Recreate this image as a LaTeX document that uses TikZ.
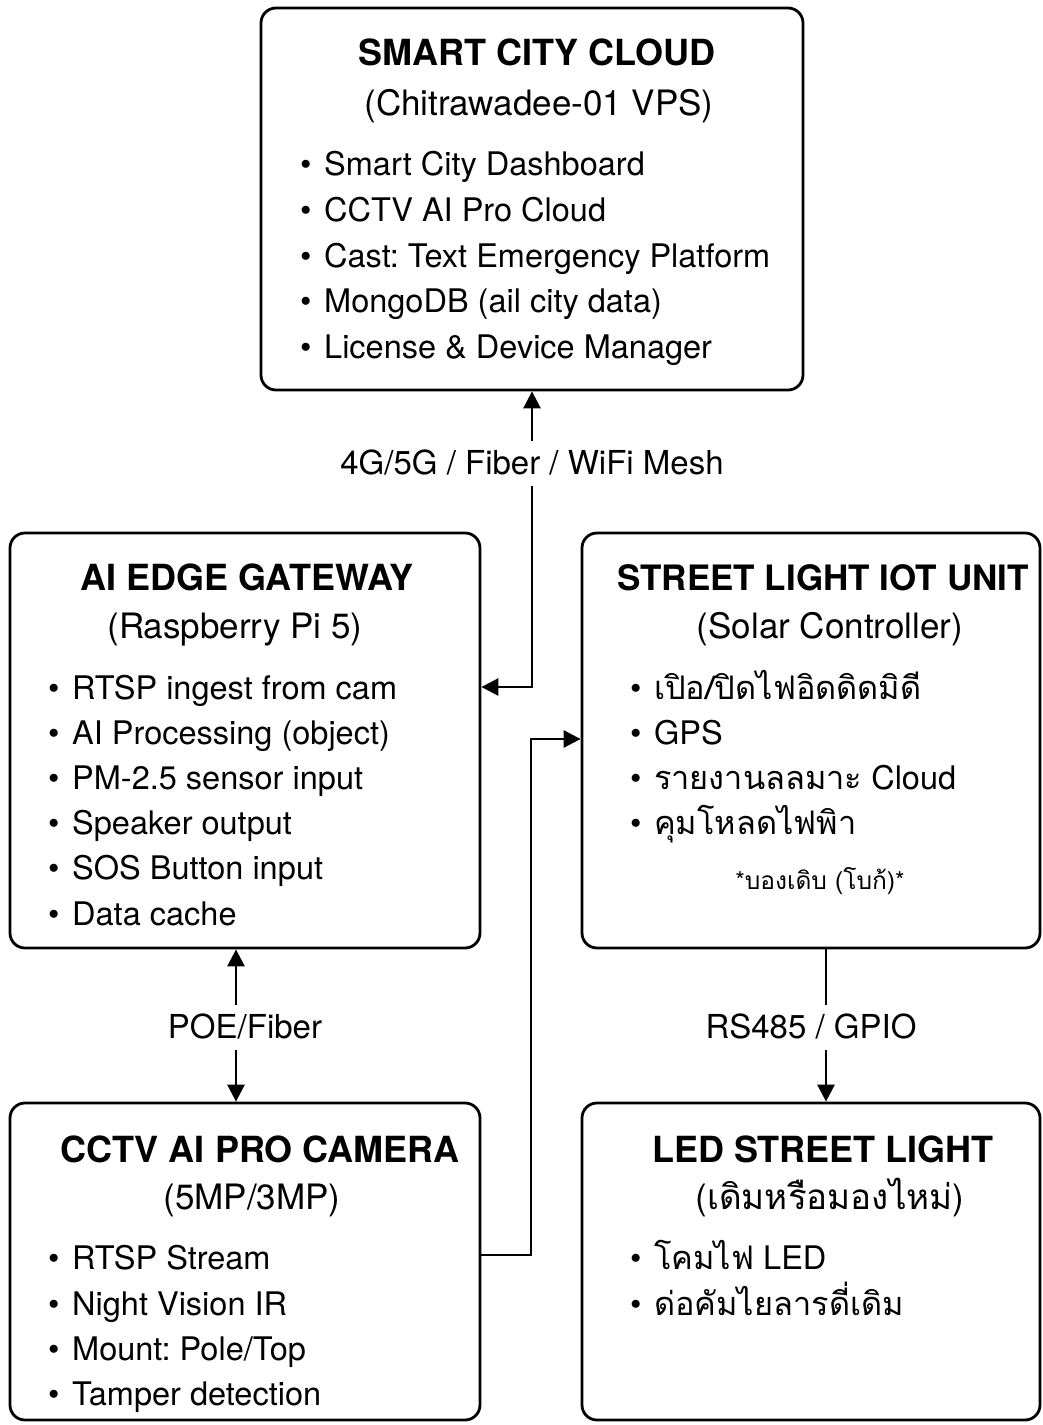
\documentclass[tikz,border=0pt]{standalone}
\usepackage{fontspec}
\setmainfont{TeX Gyre Heros}
\newfontfamily\thai[Script=Thai]{Loma}
\usetikzlibrary{arrows.meta}
\frenchspacing
\newcommand\bl{\makebox[24pt][l]{•}}
\tikzset{
  box/.style={draw, line width=2.8pt, rounded corners=15pt, inner sep=0pt},
  ttl/.style={font=\fontsize{36}{40}\selectfont\bfseries, anchor=base, inner sep=0pt},
  sub/.style={font=\fontsize{35}{40}\selectfont, anchor=base, inner sep=0pt},
  body/.style={font=\fontsize{32.5}{38}\selectfont, anchor=base west, inner sep=0pt},
  note/.style={font=\fontsize{24.5}{28}\selectfont, anchor=base, inner sep=0pt},
  lbl/.style={fill=white, font=\fontsize{33}{38}\selectfont, text height=23pt, text depth=0pt, inner xsep=4pt, inner ysep=11pt},
  conn/.style={line width=2.8pt},
  tip/.tip={Triangle[length=17pt,width=17pt]}
}
\begin{document}
\begin{tikzpicture}[x=1pt,y=-1pt]
\useasboundingbox (0,0) rectangle (1043,1425);
% boxes
\node[box, minimum width=542pt, minimum height=382pt] (cloud) at (532,199) {};
\node[box, minimum width=470pt, minimum height=415pt] (edge) at (245,740.5) {};
\node[box, minimum width=458pt, minimum height=415pt] (iot) at (811,740.5) {};
\node[box, minimum width=470pt, minimum height=317pt] (cam) at (245,1261.5) {};
\node[box, minimum width=458pt, minimum height=317pt] (led) at (811,1261.5) {};

% cloud text
\node[ttl] (c0) at (537,65) {SMART CITY CLOUD};
\node[sub] (c1) at (539,115) {(Chitrawadee-01 VPS)};
\node[body] (c2) at (300,175) {\bl Smart City Dashboard};
\node[body] (c3) at (300,221) {\bl CCTV AI Pro Cloud};
\node[body] (c4) at (300,267) {\bl Cast: Text Emergency Platform};
\node[body] (c5) at (300,312) {\bl MongoDB (ail city data)};
\node[body] (c6) at (300,358) {\bl License \& Device Manager};

% edge text
\node[ttl] (e0) at (247,590) {AI EDGE GATEWAY};
\node[sub] (e1) at (235,638) {(Raspberry Pi 5)};
\node[body] (e2) at (48,699) {\bl RTSP ingest from cam};
\node[body] (e3) at (48,744) {\bl AI Processing (object)};
\node[body] (e4) at (48,789) {\bl PM-2.5 sensor input};
\node[body] (e5) at (48,834) {\bl Speaker output};
\node[body] (e6) at (48,879) {\bl SOS Button input};
\node[body] (e7) at (48,925) {\bl Data cache};

% iot text
\node[ttl, font=\fontsize{35}{40}\selectfont\bfseries] (i0) at (823,590) {STREET LIGHT IOT UNIT};
\node[sub] (i1) at (830,638) {(Solar Controller)};
\node[body] (i2) at (630,699) {\bl{\thai เปิอ/ปิดไฟอิดดิดมิดี}};
\node[body] (i3) at (630,744) {\bl GPS};
\node[body] (i4) at (630,789) {\bl{\thai รายงานลลมาะ} Cloud};
\node[body] (i5) at (630,834) {\bl{\thai คุมโหลดไฟพิา}};
\node[note] (i6) at (820,889) {*{\thai บองเดิบ (โบก้)}*};

% camera text
\node[ttl] (k0) at (260,1162) {CCTV AI PRO CAMERA};
\node[sub] (k1) at (252,1209) {(5MP/3MP)};
\node[body] (k2) at (48,1269) {\bl RTSP Stream};
\node[body] (k3) at (48,1315) {\bl Night Vision IR};
\node[body] (k4) at (48,1360) {\bl Mount: Pole/Top};
\node[body] (k5) at (48,1405) {\bl Tamper detection};

% led text
\node[ttl] (l0) at (823,1162) {LED STREET LIGHT};
\node[sub] (l1) at (830,1209) {({\thai เดิมหรือมองไหม่})};
\node[body] (l2) at (630,1269) {\bl{\thai โคมไฟ} LED};
\node[body] (l3) at (630,1315) {\bl{\thai ด่อคัมไยลารดี่เดิม}};

% connectors
\draw[conn, {tip}-{tip}] (cloud.south) -- (cloud.south |- 0,687) -- (edge.east |- 0,687);
\node[lbl] (lb1) at (532,463) {4G/5G / Fiber / WiFi Mesh};

\draw[conn, {tip}-{tip}] (edge.south -| 236,0) -- (cam.north -| 236,0);
\node[lbl] (lb2) at (245,1027) {POE/Fiber};

\draw[conn, -{tip}] (cam.east |- 0,1255) -- (531,1255) -- (531,739) -- (iot.west |- 0,739);

\draw[conn, -{tip}] (iot.south -| 826,0) -- (led.north -| 826,0);
\node[lbl] (lb3) at (811,1027) {RS485 / GPIO};
\end{tikzpicture}
\end{document}
